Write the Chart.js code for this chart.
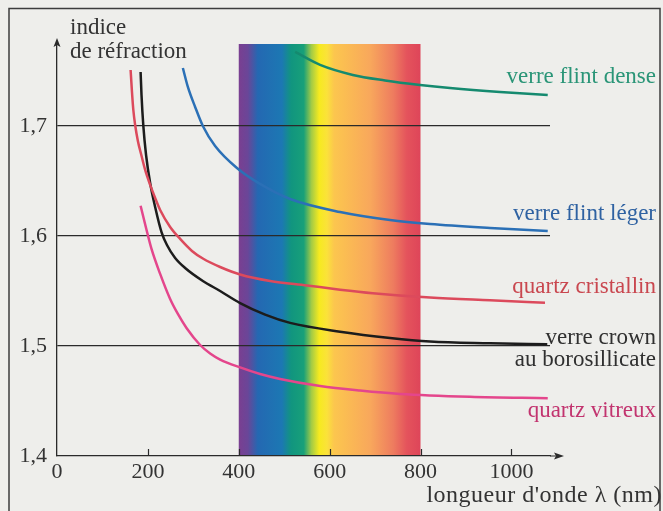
<!DOCTYPE html>
<html>
<head>
<meta charset="utf-8">
<script src="https://cdn.jsdelivr.net/npm/chart.js@4.4.0/dist/chart.umd.min.js"></script>
<style>
  html, body { margin: 0; padding: 0; background: #eeeeeb; }
</style>
</head>
<body>
<canvas id="chart" width="663" height="511"></canvas>
<script>
// axis ticks
const xTicks = [0, 200, 400, 600, 800, 1000];
const yTicks = [1.4, 1.5, 1.6, 1.7];
const visibleRange = [400, 800];

// series names (shown at right end of each curve)
const seriesNames = [
    ['verre flint dense'],
    ['verre flint léger'],
    ['quartz cristallin'],
    ['verre crown', 'au borosillicate'],
    ['quartz vitreux']
];

// [wavelength (nm), refractive index]
const flintDense = [[524, 1.7673], [579, 1.7555], [651, 1.7464], [722, 1.7414], [799, 1.7373], [865, 1.7345], [975, 1.7309], [1080, 1.7282]];
const flintLeger = [[277, 1.7527], [288, 1.7355], [304, 1.7173], [321, 1.7000], [348, 1.6818], [396, 1.6618], [447, 1.6473], [513, 1.6336], [623, 1.6218], [733, 1.6145], [821, 1.6109], [953, 1.6073], [1080, 1.6045]];
const quartzCristallin = [[162, 1.7509], [165, 1.7309], [168, 1.7145], [172, 1.7009], [178, 1.6864], [185, 1.6745], [194, 1.6600], [205, 1.6464], [216, 1.6345], [227, 1.6236], [249, 1.6082], [271, 1.5973], [297, 1.5864], [321, 1.5795], [359, 1.5718], [403, 1.5650], [469, 1.5591], [550, 1.5550], [623, 1.5512], [695, 1.5480], [821, 1.5440], [953, 1.5415], [1074, 1.5394]];
const crownBoro = [[184, 1.7491], [186, 1.7282], [190, 1.7000], [196, 1.6736], [205, 1.6482], [216, 1.6264], [230, 1.6036], [242, 1.5918], [260, 1.5800], [282, 1.5709], [321, 1.5591], [359, 1.5500], [403, 1.5390], [458, 1.5285], [513, 1.5210], [623, 1.5130], [733, 1.5073], [821, 1.5041], [953, 1.5025], [1079, 1.5015]];
const quartzVitreux = [[184, 1.6275], [196, 1.6073], [208, 1.5882], [227, 1.5655], [249, 1.5427], [266, 1.5291], [285, 1.5164], [315, 1.5009], [337, 1.4932], [359, 1.4877], [403, 1.4805], [447, 1.4745], [491, 1.4700], [579, 1.4636], [667, 1.4595], [755, 1.4564], [909, 1.4538], [1080, 1.4525]];

const allSeries = [flintDense, flintLeger, quartzCristallin, crownBoro, quartzVitreux];
const lineColors = ['#158a6f', '#2b70b6', '#dc4a5c', '#1c1c1c', '#e4468c'];
const textColors = ['#2a9577', '#2f62a2', '#c9474f', '#303030', '#c2346f'];
// vertical offset of labels from curve end, px
const labelDy = [[-18], [-17], [-16], [-6, 16], [13]];

const SERIF = '"Liberation Serif", "DejaVu Serif", serif';
const INK = '#2a2a2a';

const decor = {
    id: 'decor',
    beforeDraw(chart) {
        const { ctx, chartArea: a, scales: { x } } = chart;
        ctx.save();
        ctx.fillStyle = '#eeeeeb';
        ctx.fillRect(0, 0, chart.width, chart.height);

        // visible spectrum band
        const x0 = x.getPixelForValue(visibleRange[0]);
        const x1 = x.getPixelForValue(visibleRange[1]);
        const g = ctx.createLinearGradient(x0, 0, x1, 0);
        const stops = [
            [400, '#7a3f91'], [420, '#6a4698'], [442, '#2468b2'], [495, '#1c78b3'],
            [515, '#11957f'], [543, '#18a079'], [560, '#a3cb46'], [577, '#f6ea1f'],
            [594, '#fbe23a'], [610, '#fcc64e'], [690, '#f8a75c'], [740, '#ee7c5f'],
            [770, '#e4535c'], [800, '#de4559']
        ];
        stops.forEach(s => g.addColorStop((s[0] - 400) / 400, s[1]));
        ctx.fillStyle = g;
        ctx.fillRect(x0, a.top, x1 - x0, a.bottom - a.top);
        ctx.restore();
    },
    afterDraw(chart) {
        const { ctx, chartArea: a, scales: { x, y } } = chart;
        ctx.save();

        // frame
        ctx.strokeStyle = '#3c3c3c';
        ctx.lineWidth = 1.5;
        ctx.strokeRect(9, 8.5, 651, 510);

        // inward ticks on x axis
        ctx.strokeStyle = INK;
        ctx.lineWidth = 1.2;
        xTicks.slice(1).forEach(v => {
            const px = Math.round(x.getPixelForValue(v)) + 0.5;
            ctx.beginPath();
            ctx.moveTo(px, a.bottom);
            ctx.lineTo(px, a.bottom - 7);
            ctx.stroke();
        });

        // axis arrows
        ctx.fillStyle = INK;
        ctx.beginPath();
        ctx.moveTo(a.left, a.top);
        ctx.lineTo(a.left, a.top - 3);
        ctx.moveTo(a.right, a.bottom);
        ctx.lineTo(a.right + 10, a.bottom);
        ctx.stroke();
        ctx.beginPath();
        ctx.moveTo(a.left, a.top - 6);
        ctx.lineTo(a.left + 3.5, a.top + 3);
        ctx.lineTo(a.left, a.top + 1);
        ctx.lineTo(a.left - 3.5, a.top + 3);
        ctx.closePath();
        ctx.fill();
        ctx.beginPath();
        ctx.moveTo(a.right + 14, a.bottom);
        ctx.lineTo(a.right + 4, a.bottom - 3.5);
        ctx.lineTo(a.right + 6, a.bottom);
        ctx.lineTo(a.right + 4, a.bottom + 3.5);
        ctx.closePath();
        ctx.fill();

        // axis titles
        ctx.font = '23px ' + SERIF;
        ctx.fillStyle = '#333';
        ctx.textBaseline = 'middle';
        ctx.textAlign = 'left';
        ctx.fillText('indice', 70, 28);
        ctx.fillText('de réfraction', 70, 52);
        ctx.textAlign = 'right';
        ctx.font = '24px ' + SERIF;
        ctx.letterSpacing = '0.5px';
        ctx.fillText("longueur d'onde λ (nm)", 662, 496);
        ctx.letterSpacing = '0px';
        ctx.font = '23px ' + SERIF;

        // series labels at the right end of each curve
        chart.data.datasets.forEach((ds, i) => {
            const last = ds.data[ds.data.length - 1];
            const py = y.getPixelForValue(last.y);
            ctx.fillStyle = textColors[i];
            seriesNames[i].forEach((t, k) => {
                ctx.fillText(t, 656, py + labelDy[i][k]);
            });
        });
        ctx.restore();
    }
};

new Chart(document.getElementById('chart'), {
    type: 'line',
    data: {
        datasets: allSeries.map((s, i) => ({
            label: seriesNames[i].join(' '),
            data: s.map(p => ({ x: p[0], y: p[1] })),
            borderColor: lineColors[i],
            borderWidth: 2.5,
            pointRadius: 0,
            fill: false,
            cubicInterpolationMode: 'monotone'
        }))
    },
    options: {
        responsive: false,
        animation: false,
        layout: { padding: { top: 44, right: 113, left: 0, bottom: 0 } },
        plugins: {
            legend: { display: false },
            tooltip: { enabled: false }
        },
        scales: {
            x: {
                type: 'linear',
                min: 0,
                max: 1085,
                afterBuildTicks: s => { s.ticks = xTicks.map(v => ({ value: v })); },
                afterFit: s => { s.height = 55; },
                grid: { display: false, drawTicks: false },
                border: { display: true, color: INK, width: 1.3 },
                ticks: {
                    padding: 3,
                    color: '#333',
                    autoSkip: false,
                    maxRotation: 0,
                    font: { family: SERIF, size: 22 },
                    callback: v => String(v)
                }
            },
            y: {
                type: 'linear',
                min: 1.4,
                max: 1.7745,
                afterBuildTicks: s => { s.ticks = yTicks.map(v => ({ value: v })); },
                afterFit: s => { s.width = 57; },
                grid: {
                    drawTicks: false,
                    lineWidth: 1.2,
                    color: c => (c.tick && c.tick.value === 1.4) ? 'rgba(0,0,0,0)' : INK
                },
                border: { display: true, color: INK, width: 1.3 },
                ticks: {
                    padding: 10,
                    color: '#333',
                    font: { family: SERIF, size: 22 },
                    callback: v => String(v).replace('.', ',')
                }
            }
        }
    },
    plugins: [decor]
});
</script>
</body>
</html>
